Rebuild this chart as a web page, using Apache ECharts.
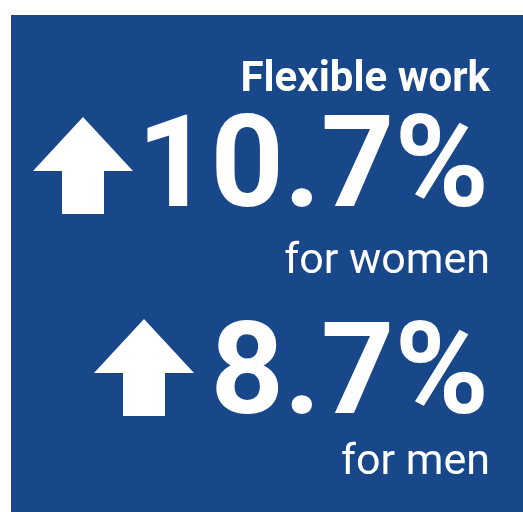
<!DOCTYPE html>
<html>
<head>
<meta charset="utf-8">
<script src="https://cdn.jsdelivr.net/npm/echarts@6/dist/echarts.min.js"></script>
<style>html,body{margin:0;padding:0;background:#fff}#c{width:523px;height:512px}</style>
</head>
<body>
<div id="c"></div>
<script>
var title = 'Flexible work';
var groups = ['for women', 'for men'];
var values = [10.7, 8.7];

var chart = echarts.init(document.getElementById('c'), null, {renderer: 'canvas'});
var FONT = 'Roboto, "Noto Sans", sans-serif';
var BLUE = '#18478A';

function arrow(tipX, tipY) {
  return {
    type: 'polygon',
    shape: {points: [
      [tipX, tipY], [tipX + 50, tipY + 54], [tipX + 21, tipY + 54], [tipX + 21, tipY + 97],
      [tipX - 21, tipY + 97], [tipX - 21, tipY + 54], [tipX - 50, tipY + 54]
    ]},
    style: {fill: '#fff'}
  };
}

var rows = [{arrowX: 83, arrowY: 117, numY: 174, labY: 262}, {arrowX: 144, arrowY: 319, numY: 381, labY: 463}];
var elements = [
  {type: 'rect', shape: {x: 11, y: 15, width: 512, height: 497}, style: {fill: BLUE}},
  {type: 'text', style: {text: title, x: 490, y: 80, align: 'right', verticalAlign: 'middle',
    font: 'bold 42px ' + FONT, fill: '#fff'}}
];
values.forEach(function (v, i) {
  var r = rows[i];
  elements.push(arrow(r.arrowX, r.arrowY));
  elements.push({type: 'text', style: {text: v.toFixed(1) + '%', x: 489, y: r.numY, align: 'right', verticalAlign: 'middle',
    font: 'bold 128px ' + FONT, fill: '#fff'}});
  elements.push({type: 'text', style: {text: groups[i], x: 490, y: r.labY, align: 'right', verticalAlign: 'middle',
    font: '43px ' + FONT, fill: '#fff'}});
});

chart.setOption({
  animation: false,
  backgroundColor: '#fff',
  graphic: {elements: elements}
});
</script>
</body>
</html>
